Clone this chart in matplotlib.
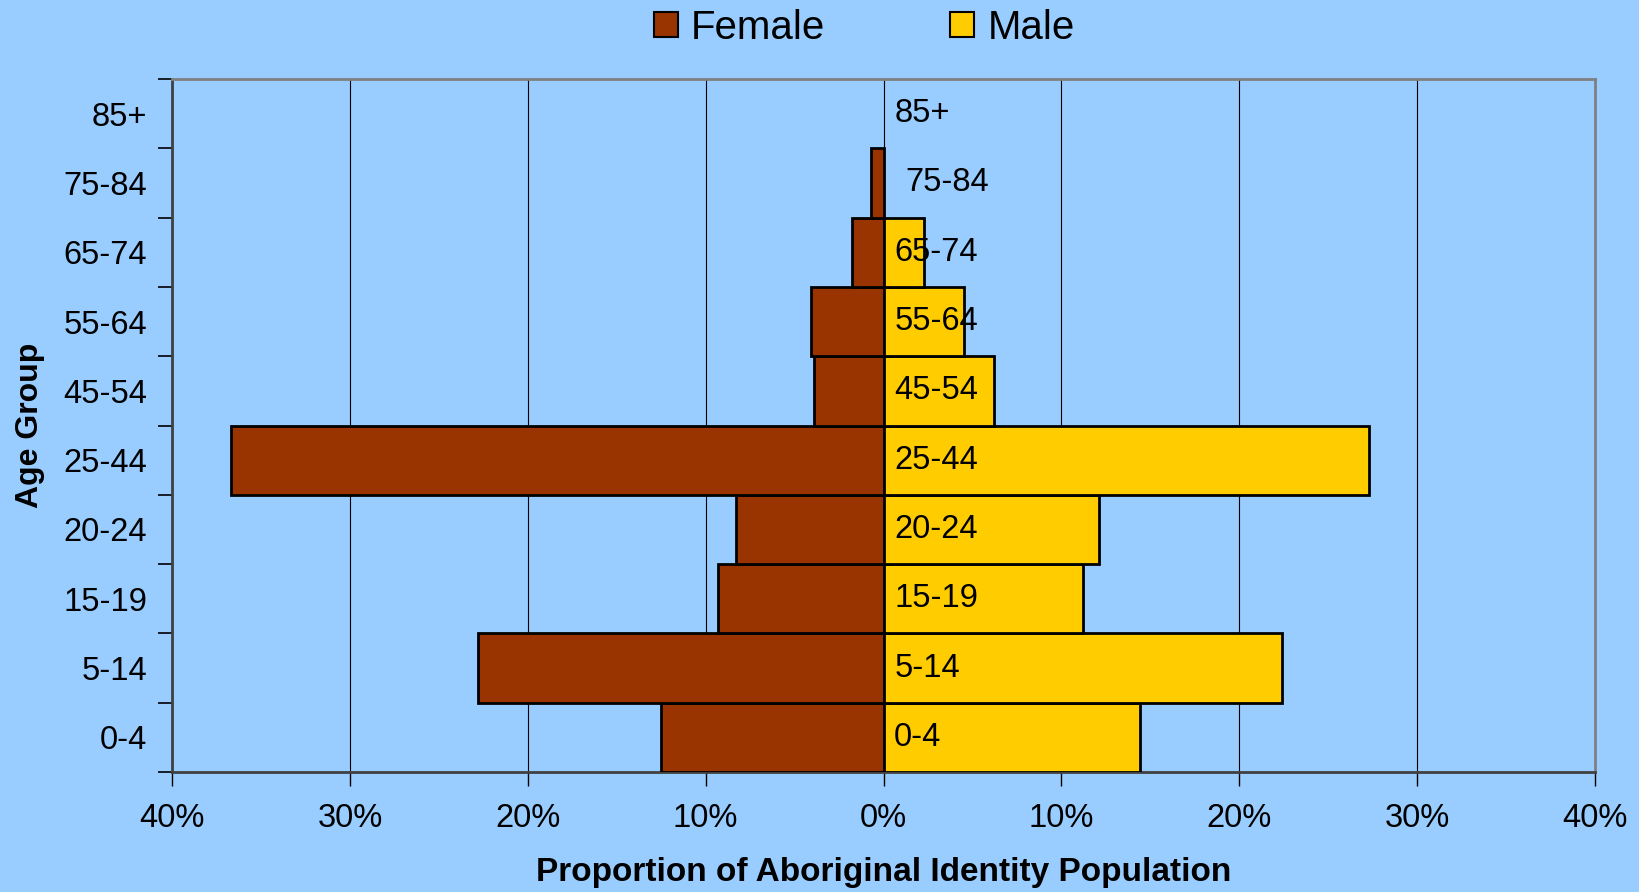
import numpy as np
import matplotlib.pyplot as plt
from matplotlib.patches import Patch

plt.rcParams['font.family'] = ['Liberation Sans', 'DejaVu Sans']

age_groups = ['0-4', '5-14', '15-19', '20-24', '25-44',
              '45-54', '55-64', '65-74', '75-84', '85+']
female_pct = [12.5, 22.8, 9.3, 8.3, 36.7, 3.9, 4.1, 1.8, 0.7, 0.0]
male_pct = [14.4, 22.4, 11.2, 12.1, 27.3, 6.2, 4.5, 2.3, 0.0, 0.0]
x_ticks = [-40, -30, -20, -10, 0, 10, 20, 30, 40]
x_tick_labels = ['40%', '30%', '20%', '10%', '0%', '10%', '20%', '30%', '40%']

bg = '#99CCFF'
female_col = '#993300'
male_col = '#FFCC00'
fs = 23.5

fig = plt.figure(figsize=(16.4, 8.92), dpi=100, facecolor=bg)
ax = fig.add_axes([0.1049, 0.1345, 0.8677, 0.7769], facecolor=bg)

y = np.arange(len(age_groups))
fem = np.array(female_pct)
mal = np.array(male_pct)
# empty groups get no bar (otherwise the edge shows as a thick line)
ax.barh(y[fem > 0], -fem[fem > 0], height=1.0, color=female_col,
        edgecolor='black', linewidth=2, zorder=3)
ax.barh(y[mal > 0], mal[mal > 0], height=1.0, color=male_col,
        edgecolor='black', linewidth=2, zorder=3)

# age group names written just right of the centre line
for i, name in enumerate(age_groups):
    off = 1.2 if name == '75-84' else 0.6
    ax.text(off, i, name, va='center', ha='left', fontsize=fs, zorder=4)

ax.set_xlim(-40, 40)
ax.set_ylim(-0.5, len(age_groups) - 0.5)
ax.set_xticks(x_ticks)
ax.set_xticklabels(x_tick_labels, fontsize=fs)
ax.xaxis.grid(True, color='black', linewidth=0.8, zorder=1)
ax.set_axisbelow(True)

ax.set_yticks(y)
ax.set_yticklabels(age_groups, fontsize=fs)
ax.set_yticks(np.arange(-0.5, len(age_groups)), minor=True)
ax.tick_params(axis='y', which='major', length=0, pad=18)
ax.tick_params(axis='y', which='minor', length=10, width=1.2, direction='out')
ax.tick_params(axis='x', length=10, width=1, direction='out', pad=12)

for s in ['top', 'right']:
    ax.spines[s].set_color('#808080')
    ax.spines[s].set_linewidth(2)
ax.spines['left'].set_color('#404040')
ax.spines['left'].set_linewidth(2)
ax.spines['bottom'].set_color('#404040')
ax.spines['bottom'].set_linewidth(2)

ax.set_xlabel('Proportion of Aboriginal Identity Population',
              fontsize=24, fontweight='bold', labelpad=17)
ax.set_ylabel('Age Group', fontsize=23, fontweight='bold', labelpad=13)

handles = [Patch(facecolor=female_col, edgecolor='black', linewidth=1.5),
           Patch(facecolor=male_col, edgecolor='black', linewidth=1.5)]
fig.legend(handles, ['Female', 'Male'], loc='center',
           bbox_to_anchor=(0.527, 0.969), ncol=2, frameon=False, fontsize=29,
           handlelength=0.6, handleheight=0.6, handletextpad=0.32,
           columnspacing=3.1, borderpad=0)

fig.savefig('out.png', dpi=100, facecolor=bg)
